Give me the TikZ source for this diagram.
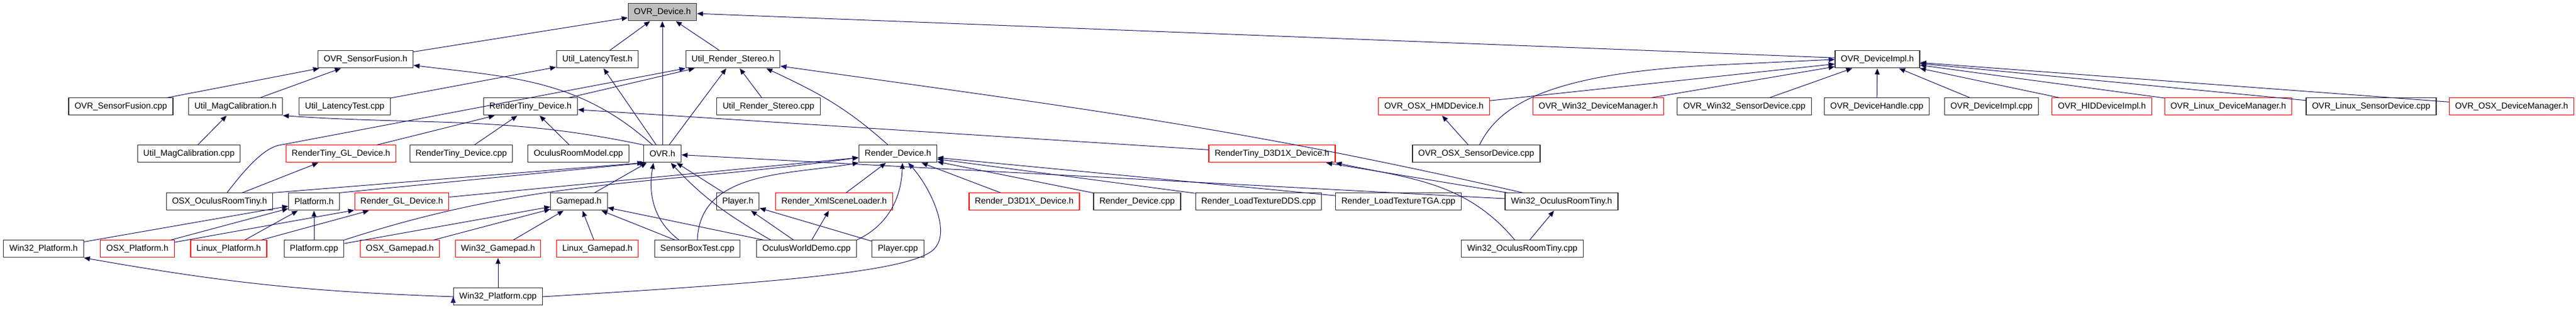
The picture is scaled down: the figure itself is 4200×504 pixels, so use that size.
\documentclass[tikz,border=0pt]{standalone}
\usepackage{fontspec}
\setmainfont{Liberation Sans}
\usetikzlibrary{arrows.meta}
\definecolor{midnight}{RGB}{25,25,112}
% one pixel of the graph is 0.1pt here
\tikzset{
  file/.style={draw=black!80,line width=0.11pt,fill=white,minimum height=2.8pt,
    inner xsep=0.95pt,inner ysep=0pt,font=\fontsize{1.4}{1.6}\selectfont},
  nodoc/.style={file,draw=red},
  cur/.style={file,fill=black!25},
  incl/.style={->,draw=midnight,line width=0.1pt}
}
\begin{document}
\begin{tikzpicture}[x=0.1pt,y=0.1pt,>={Triangle[length=1pt,width=0.8pt]}]
    \useasboundingbox (0,0) rectangle (4200,504);
    % rank 0 and 1
    \node[cur] (dev) at (1080,484) {OVR\_Device.h};
    \node[file] (sfh) at (596,407) {OVR\_SensorFusion.h};
    \node[file] (lth) at (974,407) {Util\_LatencyTest.h};
    \node[file] (rsh) at (1195,407) {Util\_Render\_Stereo.h};
    \node[file] (dih) at (3061,407) {OVR\_DeviceImpl.h};
    % rank 2
    \node[file] (sfcpp) at (197,330) {OVR\_SensorFusion.cpp};
    \node[file] (mch) at (384,330) {Util\_MagCalibration.h};
    \node[file] (ltcpp) at (562,330) {Util\_LatencyTest.cpp};
    \node[file] (rtdh) at (865,330) {RenderTiny\_Device.h};
    \node[file] (rscpp) at (1253,330) {Util\_Render\_Stereo.cpp};
    \node[nodoc] (osxhmd) at (2338,330) {OVR\_OSX\_HMDDevice.h};
    \node[nodoc] (w32dm) at (2606,330) {OVR\_Win32\_DeviceManager.h};
    \node[file] (w32sd) at (2844,330) {OVR\_Win32\_SensorDevice.cpp};
    \node[file] (dhcpp) at (3060,330) {OVR\_DeviceHandle.cpp};
    \node[file] (dicpp) at (3247,330) {OVR\_DeviceImpl.cpp};
    \node[nodoc] (hid) at (3427,330) {OVR\_HIDDeviceImpl.h};
    \node[nodoc] (lxdm) at (3633,330) {OVR\_Linux\_DeviceManager.h};
    \node[file] (lxsd) at (3866,330) {OVR\_Linux\_SensorDevice.cpp};
    \node[nodoc] (osxdm) at (4095,330) {OVR\_OSX\_DeviceManager.h};
    % rank 3
    \node[file] (mccpp) at (308,253) {Util\_MagCalibration.cpp};
    \node[nodoc] (rtgl) at (556,253) {RenderTiny\_GL\_Device.h};
    \node[file] (rtdcpp) at (752,253) {RenderTiny\_Device.cpp};
    \node[file] (orm) at (943,253) {OculusRoomModel.cpp};
    \node[file] (ovr) at (1080,253) {OVR.h};
    \node[file] (rdh) at (1464,253) {Render\_Device.h};
    \node[nodoc] (rtd3d) at (2074,253) {RenderTiny\_D3D1X\_Device.h};
    \node[file] (osxsd) at (2407,253) {OVR\_OSX\_SensorDevice.cpp};
    % rank 4
    \node[file] (osxort) at (358,175) {OSX\_OculusRoomTiny.h};
    \node[file] (plh) at (512,175) {Platform.h};
    \node[nodoc] (rgl) at (655,175) {Render\_GL\_Device.h};
    \node[file] (gph) at (944,175) {Gamepad.h};
    \node[file] (plyh) at (1203,175) {Player.h};
    \node[nodoc] (xml) at (1360,175) {Render\_XmlSceneLoader.h};
    \node[nodoc] (rd3d) at (1670,175) {Render\_D3D1X\_Device.h};
    \node[file] (rdcpp) at (1854,175) {Render\_Device.cpp};
    \node[file] (dds) at (2052,175) {Render\_LoadTextureDDS.cpp};
    \node[file] (tga) at (2280,175) {Render\_LoadTextureTGA.cpp};
    \node[file] (w32orth) at (2546,175) {Win32\_OculusRoomTiny.h};
    % rank 5 and 6
    \node[file] (w32plh) at (71,98) {Win32\_Platform.h};
    \node[nodoc] (osxpl) at (224,98) {OSX\_Platform.h};
    \node[nodoc] (lxpl) at (373,98) {Linux\_Platform.h};
    \node[file] (plcpp) at (512,98) {Platform.cpp};
    \node[nodoc] (osxgp) at (652,98) {OSX\_Gamepad.h};
    \node[nodoc] (w32gp) at (812,98) {Win32\_Gamepad.h};
    \node[nodoc] (lxgp) at (974,98) {Linux\_Gamepad.h};
    \node[file] (sbt) at (1137,98) {SensorBoxTest.cpp};
    \node[file] (owd) at (1315,98) {OculusWorldDemo.cpp};
    \node[file] (plycpp) at (1464,98) {Player.cpp};
    \node[file] (w32ortcpp) at (2482,98) {Win32\_OculusRoomTiny.cpp};
    \node[file] (w32plcpp) at (812,20) {Win32\_Platform.cpp};

    \path[incl]
        (sfh) edge (dev)
        (lth) edge (dev)
        (ovr) edge (dev)
        (rsh) edge (dev)
        (dih) edge (dev)
        (sfcpp) edge (sfh)
        (mch) edge (sfh)
        (ovr) edge[out=138,in=-7] (sfh)
        (ltcpp) edge (lth)
        (ovr) edge (lth)
        (rtdh) edge (rsh)
        (ovr) edge (rsh)
        (rscpp) edge (rsh)
        (rdh) edge[out=138,in=-25] (rsh.-15)
        (mccpp) edge (mch)
        (ovr.north west) edge[out=168,in=-4] (mch.south east)
        (rtgl) edge (rtdh)
        (rtdcpp) edge (rtdh)
        (orm) edge (rtdh)
        (rtd3d) edge (rtdh)
        (w32orth) edge (rtd3d)
        (w32ortcpp) edge[out=130,in=-12] (rtd3d.south east)
        (w32ortcpp) edge (w32orth)
        (w32orth) edge (ovr)
        (osxort.north east) edge (ovr.south west)
        (plh.north east) edge ([xshift=0.4pt]ovr.south west)
        (gph) edge (ovr)
        (sbt.154) edge[out=143,in=-100] (ovr.-135)
        (owd.166) edge[out=150,in=-47] (ovr.-47)
        (plyh) edge (ovr)
        (osxort) edge (rtgl)
        (osxgp) edge (gph)
        (w32gp) edge (gph)
        (lxgp) edge (gph)
        (sbt) edge (gph)
        (owd) edge (gph)
        (plcpp) edge (gph)
        (plcpp.north east) edge[out=18,in=-172] ([yshift=-0.6pt]rdh.west)
        (rgl) edge (rdh)
        (sbt.north) edge[out=88,in=-170] (rdh.south west)
        (xml) edge (rdh)
        (owd.north east) edge[out=25,in=-92] (rdh.-63)
        (rd3d) edge (rdh)
        (rdcpp) edge (rdh)
        (dds) edge (rdh)
        (tga) edge (rdh)
        (plycpp) edge (plyh)
        (owd) edge (plyh)
        (owd) edge (xml)
        (w32plh) edge (plh)
        (osxpl) edge (plh)
        (osxpl) edge (rgl)
        (lxpl) edge (plh)
        (lxpl) edge (rgl)
        (plcpp) edge (plh)
        (w32plcpp.west) edge[out=178,in=-10] (w32plh.south east)
        (w32plcpp) edge (w32gp)
        (osxhmd) edge (dih)
        (w32dm) edge (dih)
        (w32sd) edge (dih)
        (dhcpp) edge (dih)
        (dicpp) edge (dih)
        (hid) edge (dih)
        (lxdm) edge (dih)
        (lxsd) edge (dih)
        (osxdm) edge (dih)
        (osxsd) edge (osxhmd);
    % the bent ones
    \draw[incl] (w32orth.167) .. controls (2015,297) and (1749,329) .. (rsh.-8);
    \draw[incl] ([xshift=1.2pt]osxort.north) .. controls (390,215) and (425,261) .. (455,267) -- (rsh.south west);
    \draw[incl] (osxsd.70) .. controls (2445,335) and (2530,385) .. (2800,398) -- (dih.west);
    \draw[incl] (w32plcpp.east) .. controls (1250,42) and (1495,60) .. (1525,100)
        .. controls (1550,130) and (1515,200) .. (rdh.-41);
\end{tikzpicture}
\end{document}
